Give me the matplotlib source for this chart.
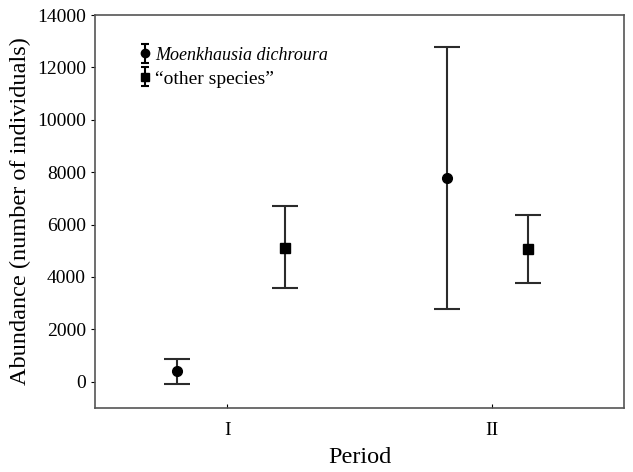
import matplotlib.pyplot as plt
import numpy as np

plt.rcParams['font.family'] = ['Liberation Serif', 'DejaVu Serif']

periods = ['I', 'II']
# Moenkhausia dichroura
md_mean = [390, 7790]
md_low = [-90, 2770]
md_high = [880, 12790]
# "other species"
os_mean = [5120, 5060]
os_low = [3560, 3760]
os_high = [6710, 6370]

x = np.arange(1, len(periods) + 1)
md_shift = np.array([-0.19, -0.17])
os_shift = np.array([0.22, 0.135])

fig = plt.figure(figsize=(6.33, 4.72), dpi=100)
ax = fig.add_axes([0.150, 0.136, 0.836, 0.832])

line_col = '#2b2b2b'
style = dict(color='black', ecolor=line_col, elinewidth=1.5, capthick=1.5, markersize=7)

md_err = [np.array(md_mean) - np.array(md_low), np.array(md_high) - np.array(md_mean)]
os_err = [np.array(os_mean) - np.array(os_low), np.array(os_high) - np.array(os_mean)]

ax.errorbar(x + md_shift, md_mean, yerr=md_err, fmt='o', capsize=9.5, **style)
ax.errorbar(x + os_shift, os_mean, yerr=os_err, fmt='s', capsize=9.5, **style)

# small proxies for the legend icons
h1 = ax.errorbar([np.nan], [np.nan], yerr=[[1], [1]], fmt='o', capsize=3,
                 color='black', ecolor='black', elinewidth=1.5, capthick=1.5, markersize=6)
h2 = ax.errorbar([np.nan], [np.nan], yerr=[[1], [1]], fmt='s', capsize=3,
                 color='black', ecolor='black', elinewidth=1.5, capthick=1.5, markersize=6)

ax.set_xlim(0.5, 2.5)
ax.set_ylim(-1000, 14000)
ax.set_xticks(x)
ax.set_xticklabels(periods)
ax.set_yticks(np.arange(0, 14001, 2000))
ax.tick_params(axis='y', direction='out', length=3, labelsize=14, width=0.8)
ax.tick_params(axis='x', direction='in', length=3, labelsize=14, width=0.8, pad=10)
for s in ax.spines.values():
    s.set_color('#555555')
    s.set_linewidth(1.2)

ax.set_xlabel('Period', fontsize=17.5, labelpad=6)
ax.set_ylabel('Abundance (number of individuals)', fontsize=17.5, labelpad=4)

leg = ax.legend([h1, h2], ['Moenkhausia dichroura', '\u201cother species\u201d'],
                loc='upper left', bbox_to_anchor=(0.085, 0.92), frameon=False,
                fontsize=14, handlelength=0.5, handletextpad=0.3, labelspacing=0.3,
                borderaxespad=0, borderpad=0)
leg.get_texts()[0].set_style('italic')
leg.get_texts()[0].set_fontsize(13)

fig.savefig('out.png', dpi=100)
